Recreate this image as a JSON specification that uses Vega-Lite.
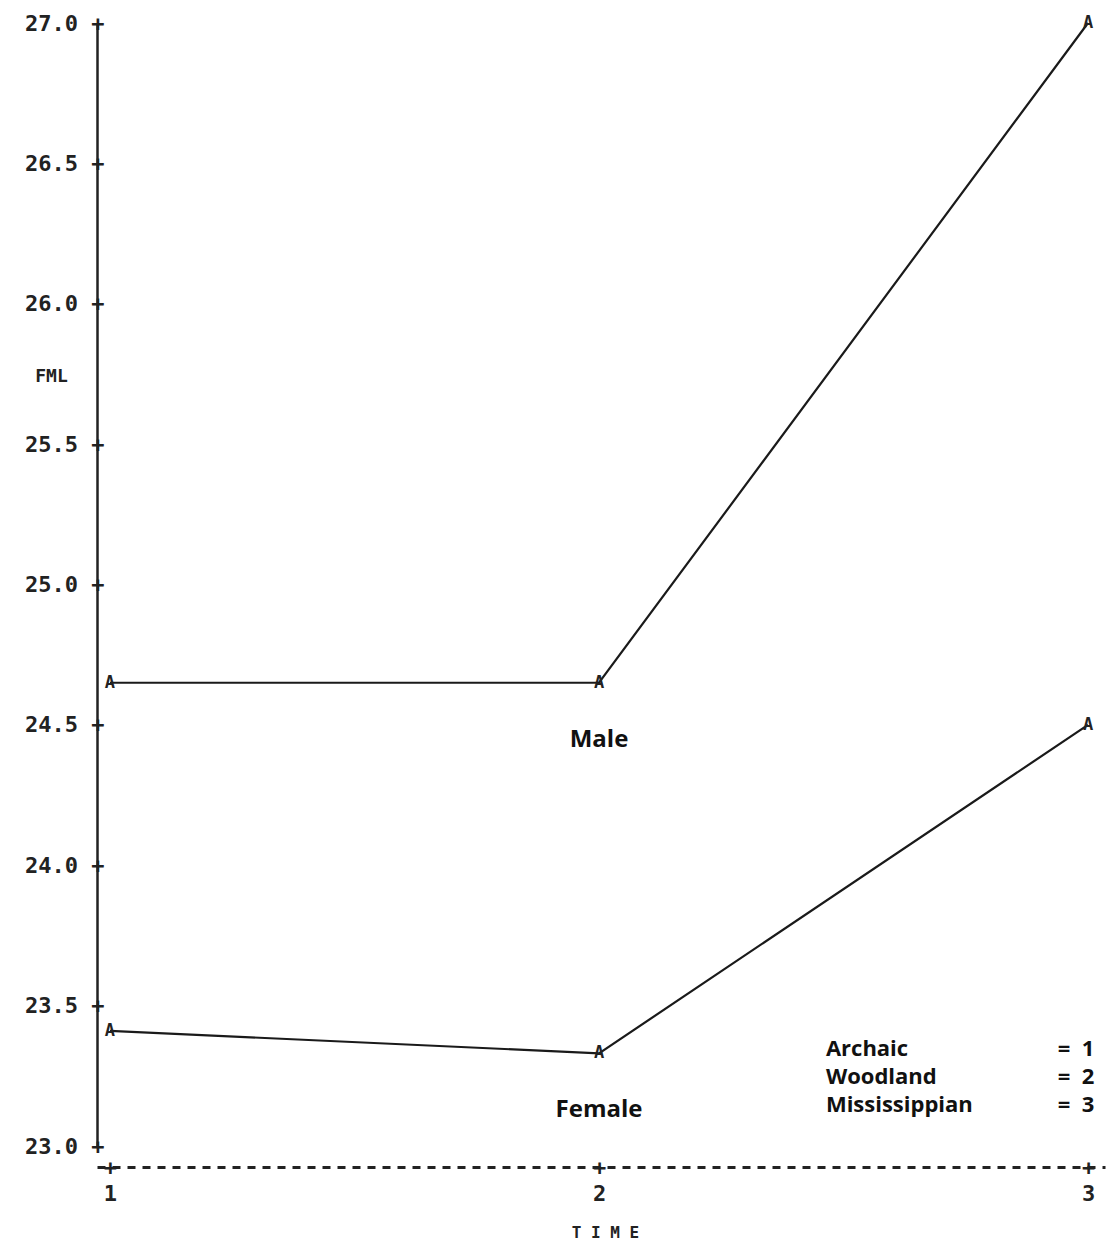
{
  "$schema": "https://vega.github.io/schema/vega-lite/v6.json",
  "width": 1008,
  "height": 1123,
  "autosize": {"type": "none"},
  "padding": {"left": 97, "top": 23, "right": 6, "bottom": 104},
  "background": "white",
  "config": {"view": {"stroke": null}},
  "datasets": {
    "means": [
      {"time": 1, "fml": 24.65, "sex": "Male"},
      {"time": 2, "fml": 24.65, "sex": "Male"},
      {"time": 3, "fml": 27.0, "sex": "Male"},
      {"time": 1, "fml": 23.41, "sex": "Female"},
      {"time": 2, "fml": 23.33, "sex": "Female"},
      {"time": 3, "fml": 24.5, "sex": "Female"}
    ],
    "periods": [
      {"period": "Archaic", "code": 1},
      {"period": "Woodland", "code": 2},
      {"period": "Mississippian", "code": 3}
    ]
  },
  "layer": [
    {
      "data": {"name": "means"},
      "encoding": {
        "x": {
          "field": "time",
          "type": "quantitative",
          "scale": {"domain": [0.97342, 3.03476], "nice": false, "zero": false},
          "axis": {
            "values": [1, 2, 3],
            "labelExpr": "['+', format(datum.value, 'd')]",
            "offset": 21,
            "grid": false,
            "ticks": false,
            "domainDash": [8, 7],
            "domainWidth": 3,
            "domainColor": "#222",
            "labelFont": "DejaVu Sans Mono",
            "labelFontWeight": "bold",
            "labelFontSize": 22,
            "labelLineHeight": 26,
            "labelPadding": -10,
            "labelBaseline": "top",
            "labelColor": "#222",
            "labelFlush": false,
            "labelOverlap": false,
            "title": "T I M E",
            "titleFont": "DejaVu Sans Mono",
            "titleFontSize": 16,
            "titleFontWeight": "bold",
            "titleColor": "#222",
            "titleX": 508,
            "titleY": 65,
            "titleAlign": "center",
            "titleBaseline": "middle"
          }
        },
        "y": {
          "field": "fml",
          "type": "quantitative",
          "scale": {"domain": [23, 27], "nice": false, "zero": false},
          "axis": {
            "values": [23, 23.5, 24, 24.5, 25, 25.5, 26, 26.5, 27],
            "labelExpr": "format(datum.value, '.1f') + ' +'",
            "grid": false,
            "ticks": false,
            "domainWidth": 2.5,
            "domainColor": "#222",
            "labelFont": "DejaVu Sans Mono",
            "labelFontWeight": "bold",
            "labelFontSize": 22,
            "labelPadding": -7,
            "labelBaseline": "middle",
            "labelColor": "#222",
            "labelFlush": false,
            "labelOverlap": false,
            "title": "FML",
            "titleAngle": 0,
            "titleFont": "DejaVu Sans Mono",
            "titleFontSize": 18,
            "titleFontWeight": "bold",
            "titleColor": "#222",
            "titleX": -46,
            "titleY": 353,
            "titleAlign": "center",
            "titleBaseline": "middle"
          }
        }
      },
      "layer": [
        {
          "mark": {"type": "line", "stroke": "#1a1a1a", "strokeWidth": 2.2},
          "encoding": {"detail": {"field": "sex"}}
        },
        {
          "mark": {"type": "text", "text": "A", "font": "DejaVu Sans Mono", "fontWeight": "bold", "fontSize": 17, "align": "center", "baseline": "middle", "color": "#222"}
        },
        {
          "transform": [{"filter": "datum.time == 2"}],
          "mark": {"type": "text", "font": "Open Sans", "fontWeight": "bold", "fontSize": 24, "align": "center", "baseline": "middle", "dy": 57, "color": "#111"},
          "encoding": {"text": {"field": "sex"}}
        }
      ]
    },
    {
      "data": {"name": "periods"},
      "encoding": {
        "y": {
          "field": "code",
          "type": "quantitative",
          "scale": {"domain": [1, 3], "range": [1026, 1082]},
          "axis": null
        }
      },
      "layer": [
        {
          "mark": {"type": "text", "font": "Open Sans", "fontWeight": "bold", "fontSize": 22, "align": "left", "baseline": "middle", "color": "#111"},
          "encoding": {"x": {"datum": 2.464}, "text": {"field": "period"}}
        },
        {
          "mark": {"type": "text", "text": "=", "font": "Open Sans", "fontWeight": "bold", "fontSize": 22, "align": "center", "baseline": "middle", "color": "#111"},
          "encoding": {"x": {"datum": 2.951}}
        },
        {
          "mark": {"type": "text", "font": "Open Sans", "fontWeight": "bold", "fontSize": 22, "align": "center", "baseline": "middle", "color": "#111"},
          "encoding": {"x": {"datum": 3.0}, "text": {"field": "code"}}
        }
      ]
    }
  ],
  "resolve": {"scale": {"y": "independent"}}
}
